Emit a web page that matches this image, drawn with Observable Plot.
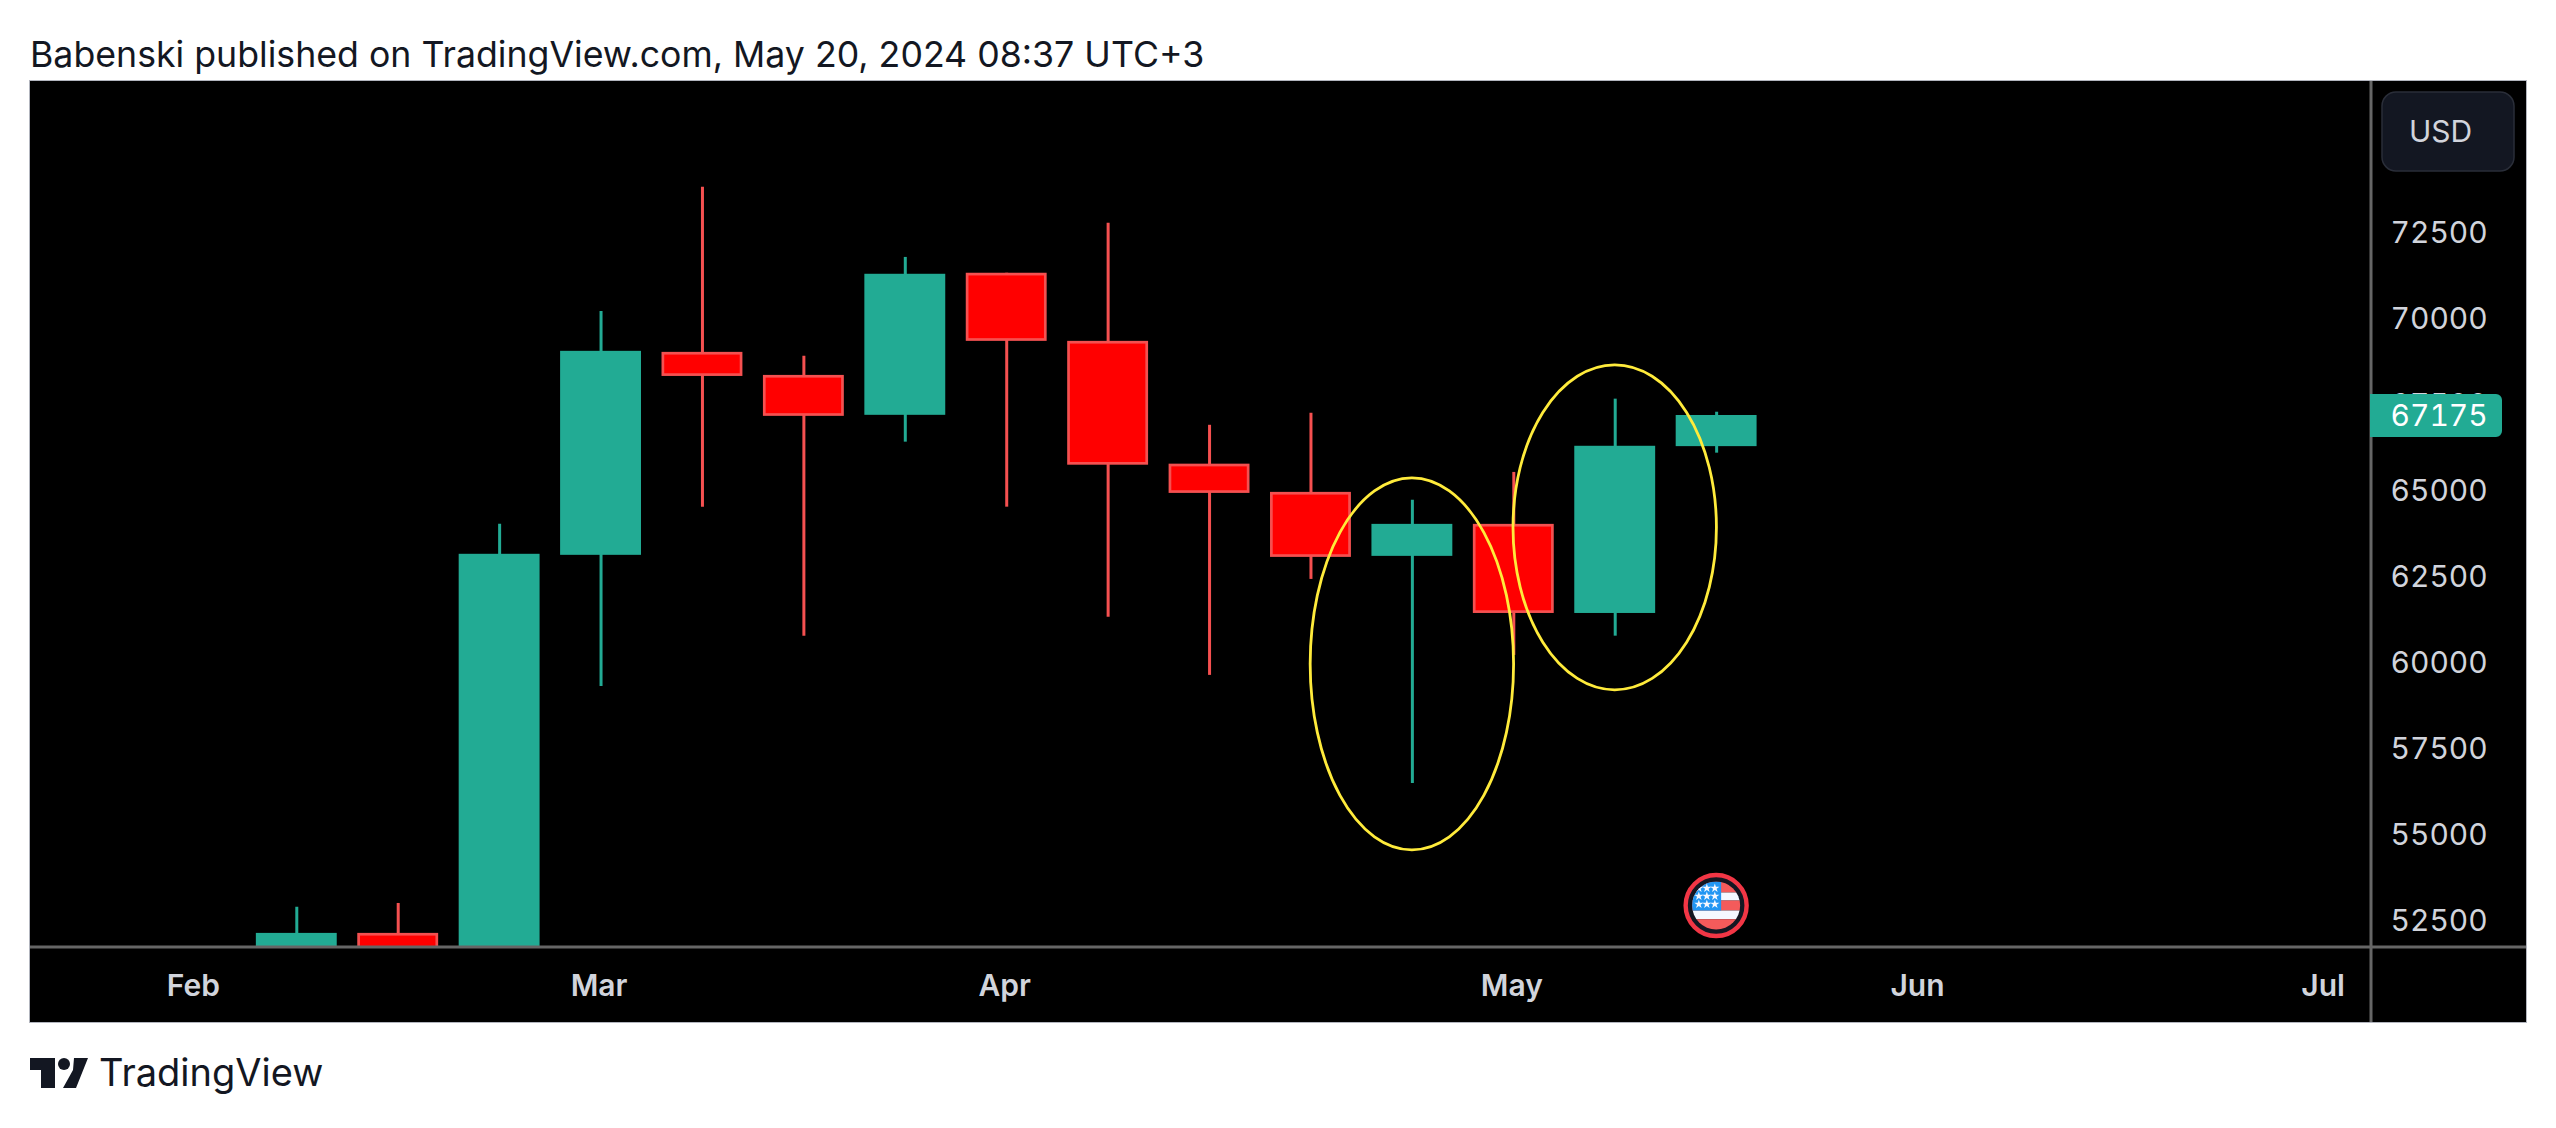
<!DOCTYPE html>
<html>
<head>
<meta charset="utf-8">
<script src="https://cdn.jsdelivr.net/npm/d3@7"></script>
<script src="https://cdn.jsdelivr.net/npm/@observablehq/plot@0.6"></script>
<style>
  html, body { margin: 0; padding: 0; background: #fff; }
  body { width: 2556px; height: 1128px; overflow: hidden; font-family: Inter, sans-serif; color: #131722; }
  #title { height: 81px; box-sizing: border-box; padding: 33px 0 0 30px; font-size: 35.7px; line-height: 42px; white-space: nowrap; }
  #chart { margin-left: 30px; width: 2496px; height: 941px; box-shadow: 0 0 0 1px #b2b5be; }
  #chart svg { display: block; }
  #chart text { font-variant-numeric: tabular-nums; }
  #foot { position: relative; height: 106px; }
  #foot svg { position: absolute; left: 30px; top: 36px; }
  #foot span { position: absolute; left: 99px; top: 27px; font-size: 38px; line-height: 46px; white-space: nowrap; }
</style>
</head>
<body>
<div id="title">Babenski published on TradingView.com, May 20, 2024 08:37 UTC+3</div>
<div id="chart"></div>
<div id="foot">
  <svg width="58" height="30" viewBox="0 0 58 30"><path fill="#131722" d="M0 0H25V30H11V12H0Z"/><circle fill="#131722" cx="34" cy="6" r="6"/><path fill="#131722" d="M44 0H58L46 30H33L43 12Z"/></svg>
  <span>TradingView</span>
</div>
<script>
const weeks = ["2024-02-12","2024-02-19","2024-02-26","2024-03-04","2024-03-11","2024-03-18","2024-03-25","2024-04-01","2024-04-08","2024-04-15","2024-04-22","2024-04-29","2024-05-06","2024-05-13","2024-05-20"];
const opens  = [48300, 52120, 51700, 63110, 69010, 68340, 67180, 71310, 69330, 65760, 64940, 63080, 64010, 61420, 66270];
const highs  = [52880, 52990, 64010, 70200, 73810, 68900, 71770, 71310, 72760, 66890, 67240, 64710, 65520, 67650, 67270];
const lows   = [47600, 50500, 50900, 59300, 64510, 60760, 66400, 64510, 61310, 59620, 62410, 56480, 60200, 60760, 66080];
const closes = [52120, 51500, 63140, 69040, 68310, 67150, 71280, 69330, 65730, 64910, 63050, 64010, 61420, 66280, 67175];

const priceTicks = [52500, 55000, 57500, 60000, 62500, 65000, 67500, 70000, 72500];
const monthTicks = ["2024-02-05","2024-03-04","2024-04-01","2024-05-06","2024-06-03","2024-07-01"];

const ellipseWeeks = ["2024-04-29","2024-05-13"];
const ellipsePrices = [59940, 63910];
const ellipseHalfDays = [7.02, 7.02];
const ellipseHalfPrices = [5407, 4724];

const xDomain = [new Date(Date.UTC(2024,1,5) - 11.38*864e5), new Date(Date.UTC(2024,1,5) + 150.2*864e5)];
const yDomain = [51739, 76884];
const flagWeek = "2024-05-20";
const flagPrice = 52916;
const lastPrice = 67175;

const TEAL = "#22ab94", RED_EDGE = "#f55050", RED_FILL = "#ff0000", LABEL = "#d1d4dc";
const candles = weeks.map((w,i) => ({date:new Date(w), open:opens[i], high:highs[i], low:lows[i], close:closes[i], up:closes[i]>=opens[i]}));
const ups = candles.filter(d => d.up), downs = candles.filter(d => !d.up);
const HALF = 67;
const left = d => d3.utcHour.offset(d.date, -HALF), right = d => d3.utcHour.offset(d.date, HALF);

const NS = "http://www.w3.org/2000/svg";
function el(name, attrs, parent) {
  const e = document.createElementNS(NS, name);
  for (const k in attrs) e.setAttribute(k, attrs[k]);
  if (parent) parent.appendChild(e);
  return e;
}
function ellipses(index, {x, y}) {
  const g = el("g", {fill:"none", stroke:"#ffeb3b", "stroke-width":2.8});
  ellipseWeeks.forEach((w,i) => {
    const c = new Date(w);
    el("ellipse", {
      cx: x(c), cy: y(ellipsePrices[i]),
      rx: x(new Date(+c + ellipseHalfDays[i]*864e5)) - x(c),
      ry: y(ellipsePrices[i]-ellipseHalfPrices[i]) - y(ellipsePrices[i])
    }, g);
  });
  return g;
}
function flag(index, {x, y}) {
  const g = el("g", {transform:`translate(${x(new Date(flagWeek))},${y(flagPrice)})`});
  el("circle", {r:30.5, fill:"#131722", stroke:"#f23645", "stroke-width":4.4}, g);
  const cp = el("clipPath", {id:"flagclip"}, g);
  el("circle", {r:24}, cp);
  const f = el("g", {"clip-path":"url(#flagclip)"}, g);
  [[-24,11,"#f45b5b"],[-13,8,"#f5f8ff"],[-5,10,"#f45b5b"],[5,8.7,"#f5f8ff"],[13.7,11,"#f45b5b"]].forEach(([t,h,c]) => el("rect",{x:-25,y:t,width:50,height:h,fill:c},f));
  el("rect",{x:-25,y:-24,width:30,height:29,fill:"#2196f3"},f);
  const star = d3.symbol(d3.symbolStar, 26)();
  [-17.3,-9.3,-1.3].forEach(sy => [-17.3,-9.3,-1.3].forEach(sx => el("path",{d:star,fill:"#f5f8ff",transform:`translate(${sx},${sy})`},f)));
  return g;
}
function scaleLines(index, scales, values, {width, height, marginRight, marginBottom}) {
  const g = el("g", {stroke:"#666", "stroke-width":3});
  el("line", {x1:0, x2:width, y1:height-marginBottom+1, y2:height-marginBottom+1}, g);
  el("line", {x1:width-marginRight, x2:width-marginRight, y1:0, y2:height}, g);
  return g;
}
function priceTag(index, {y}, values, {width, marginRight}) {
  const g = el("g", {});
  const x0 = width-marginRight-1, h = 43, w = 132, r = 6, t = y(lastPrice)-h/2+0.5;
  el("path", {fill:TEAL, d:`M${x0} ${t}H${x0+w-r}a${r} ${r} 0 0 1 ${r} ${r}V${t+h-r}a${r} ${r} 0 0 1 ${-r} ${r}H${x0}Z`}, g);
  return g;
}
function usdBox(index, scales, values, {width}) {
  return el("rect", {x:width-144, y:11, width:132, height:79, rx:14, fill:"#131722", stroke:"#2a2e39", "stroke-width":1.5});
}

const plot = Plot.plot({
  width: 2496, height: 941,
  marginLeft: 0, marginRight: 155, marginTop: 0, marginBottom: 76,
  style: {background:"#000", fontFamily:"Inter, sans-serif"},
  x: {type:"utc", domain:xDomain},
  y: {type:"linear", domain:yDomain},
  marks: [
    Plot.ruleX(ups,   {x:"date", y1:"low", y2:"high", stroke:TEAL, strokeWidth:3, clip:true}),
    Plot.ruleX(downs, {x:"date", y1:"low", y2:"high", stroke:RED_EDGE, strokeWidth:3, clip:true}),
    Plot.rect(ups,   {x1:left, x2:right, y1:"open", y2:"close", fill:TEAL, clip:true}),
    Plot.rect(downs, {x1:left, x2:right, y1:"open", y2:"close", fill:RED_FILL, stroke:RED_EDGE, strokeWidth:2.7, inset:1.35, clip:true}),
    ellipses,
    flag,
    scaleLines,
    Plot.axisY(priceTicks, {anchor:"right", label:null, tickSize:0, tickPadding:19, dy:1.5, fontSize:30, fill:LABEL, tickFormat:d=>String(d)}),
    Plot.axisX(monthTicks.map(d=>new Date(d)), {anchor:"bottom", label:null, tickSize:0, tickPadding:28, dx:-2, fontSize:30, fontWeight:600, fill:LABEL, tickFormat:d3.utcFormat("%b")}),
    priceTag,
    Plot.text([lastPrice], {y:d=>d, text:d=>String(d), frameAnchor:"right", dx:19, dy:1, textAnchor:"start", fontSize:30, fill:"#fff"}),
    usdBox,
    Plot.text(["USD"], {text:d=>d, frameAnchor:"top-right", lineAnchor:"middle", dx:69, dy:51, textAnchor:"middle", fontSize:30, fill:LABEL})
  ]
});
document.getElementById("chart").appendChild(plot);
</script>
</body>
</html>
